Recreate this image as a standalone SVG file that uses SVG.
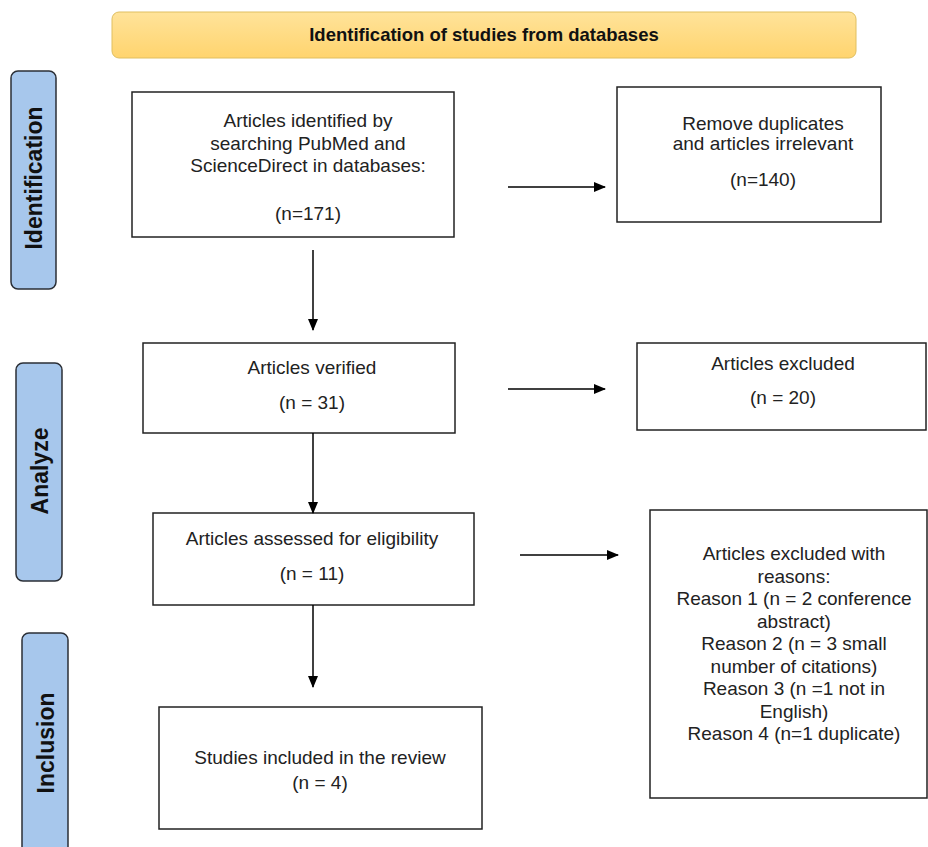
<svg xmlns="http://www.w3.org/2000/svg" width="928" height="847" viewBox="0 0 928 847">
<defs>
<linearGradient id="gold" x1="0" y1="0" x2="0" y2="1">
<stop offset="0" stop-color="#ffe39a"/>
<stop offset="1" stop-color="#ffd46e"/>
</linearGradient>
<marker id="ah" markerWidth="12" markerHeight="12" refX="11" refY="6" orient="auto" markerUnits="userSpaceOnUse">
<path d="M0,1 L12,6 L0,11 Z" fill="#000"/>
</marker>
<style>
.box{fill:#fff;stroke:#222;stroke-width:1.5}
.tab{fill:#a7c7ec;stroke:#2b2f36;stroke-width:1.5}
.t{font-family:"Liberation Sans",Arial,sans-serif;font-size:19px;fill:#222;text-anchor:middle}
.tb{font-family:"Liberation Sans",Arial,sans-serif;font-weight:bold;fill:#111;text-anchor:middle}
.c{stroke:#000;stroke-width:1.5;fill:none;marker-end:url(#ah)}
</style>
</defs>
<rect width="928" height="847" fill="#fff"/>
<g id="banner">
<rect x="112" y="12" width="744" height="46" rx="7" fill="url(#gold)" stroke="#e0bf60" stroke-width="1"/>
<text class="tb" x="484" y="41" font-size="18.5">Identification of studies from databases</text>
</g>
<g id="tab-identification">
<rect class="tab" x="11" y="71" width="45" height="218" rx="7"/>
<text class="tb" font-size="23" transform="translate(42,178) rotate(-90)">Identification</text>
</g>
<g id="tab-analyze">
<rect class="tab" x="16" y="363" width="46" height="218" rx="7"/>
<text class="tb" font-size="23" transform="translate(48,471) rotate(-90)">Analyze</text>
</g>
<g id="tab-inclusion">
<rect class="tab" x="22" y="633" width="46" height="230" rx="7"/>
<text class="tb" font-size="23" transform="translate(54,743) rotate(-90)">Inclusion</text>
</g>
<g id="n-identified">
<rect class="box" x="132" y="92" width="322" height="145"/>
<text class="t" x="308" y="127">Articles identified by</text>
<text class="t" x="308" y="150">searching PubMed and</text>
<text class="t" x="308" y="172">ScienceDirect in databases:</text>
<text class="t" x="308" y="220">(n=171)</text>
</g>
<g id="n-removed">
<rect class="box" x="617" y="87" width="264" height="135"/>
<text class="t" x="763" y="130">Remove duplicates</text>
<text class="t" x="763" y="150">and articles irrelevant</text>
<text class="t" x="763" y="186">(n=140)</text>
</g>
<g id="n-verified">
<rect class="box" x="143" y="343" width="312" height="90"/>
<text class="t" x="312" y="374">Articles verified</text>
<text class="t" x="312" y="409">(n = 31)</text>
</g>
<g id="n-excluded">
<rect class="box" x="637" y="343" width="289" height="87"/>
<text class="t" x="783" y="370">Articles excluded</text>
<text class="t" x="783" y="404">(n = 20)</text>
</g>
<g id="n-assessed">
<rect class="box" x="153" y="513" width="321" height="92"/>
<text class="t" x="312" y="545">Articles assessed for eligibility</text>
<text class="t" x="312" y="580">(n = 11)</text>
</g>
<g id="n-excluded-reasons">
<rect class="box" x="650" y="510" width="277" height="288"/>
<text class="t" x="794" y="560">Articles excluded with</text>
<text class="t" x="794" y="582.5">reasons:</text>
<text class="t" x="794" y="605">Reason 1 (n = 2 conference</text>
<text class="t" x="794" y="627.5">abstract)</text>
<text class="t" x="794" y="650">Reason 2 (n = 3 small</text>
<text class="t" x="794" y="672.5">number of citations)</text>
<text class="t" x="794" y="695">Reason 3 (n =1 not in</text>
<text class="t" x="794" y="717.5">English)</text>
<text class="t" x="794" y="740">Reason 4 (n=1 duplicate)</text>
</g>
<g id="n-included">
<rect class="box" x="159" y="707" width="323" height="122"/>
<text class="t" x="320" y="764">Studies included in the review</text>
<text class="t" x="320" y="789">(n = 4)</text>
</g>
<g id="connectors">
<line class="c" x1="313" y1="250" x2="313" y2="330"/>
<line class="c" x1="508" y1="187" x2="605" y2="187"/>
<line class="c" x1="313" y1="433" x2="313" y2="513"/>
<line class="c" x1="508" y1="389" x2="605" y2="389"/>
<line class="c" x1="313" y1="605" x2="313" y2="687"/>
<line class="c" x1="520" y1="555" x2="618" y2="555"/>
</g>
</svg>
